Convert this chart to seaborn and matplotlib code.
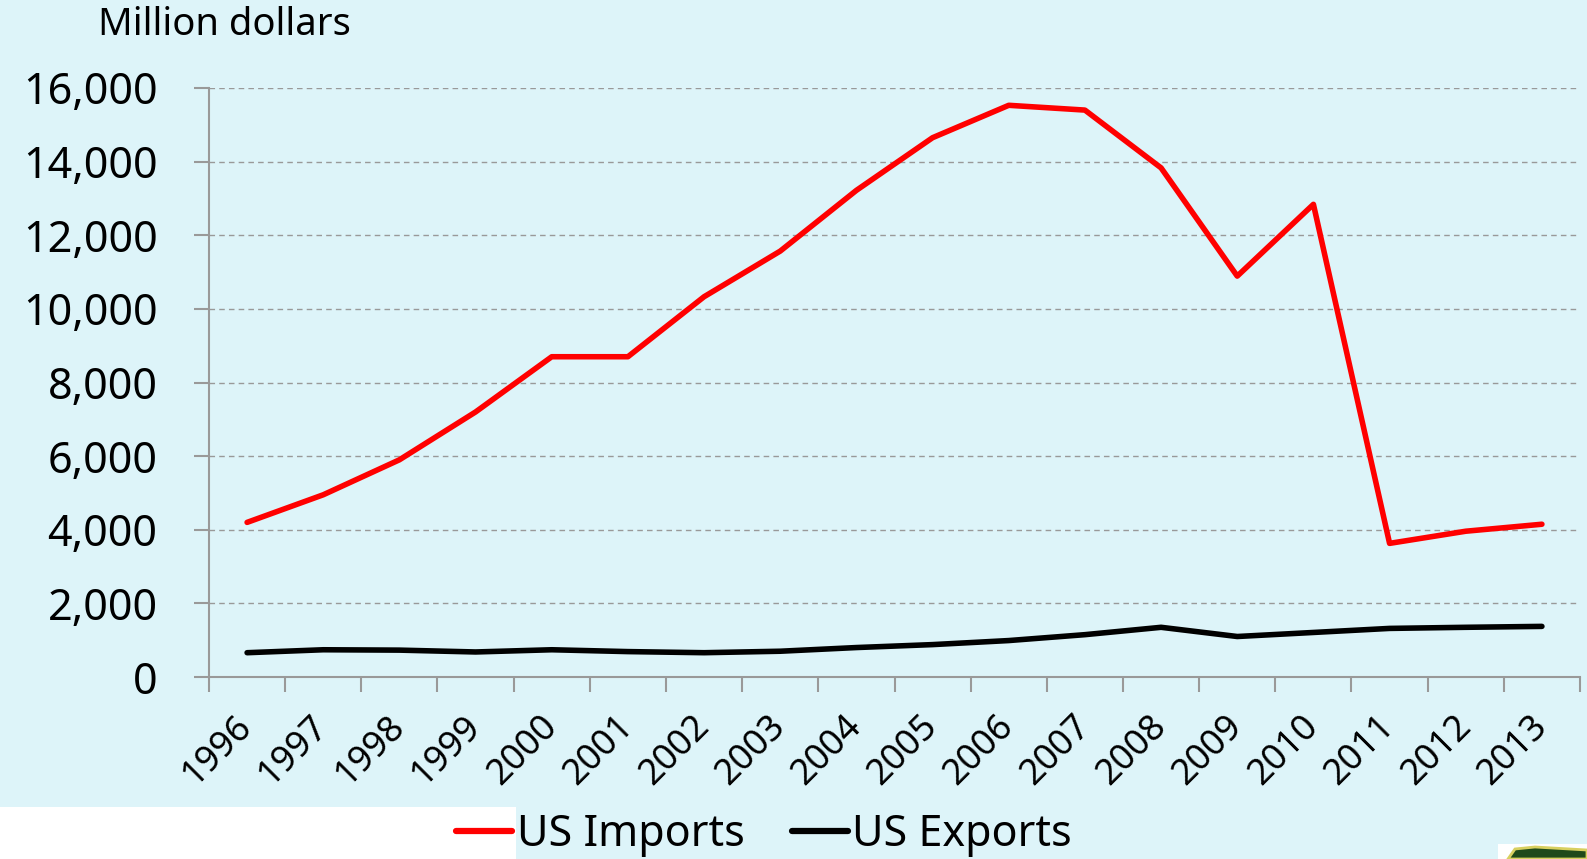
import numpy as np
import pandas as pd
import matplotlib
matplotlib.use("Agg")
import matplotlib.pyplot as plt
from matplotlib.patches import Rectangle, Polygon
from matplotlib.ticker import FixedLocator, FuncFormatter
import seaborn as sns

years = [str(y) for y in range(1996, 2014)]
imports = [4200, 4950, 5900, 7200, 8700, 8700, 10330, 11570, 13220, 14650,
           15530, 15400, 13830, 10890, 12840, 3630, 3960, 4150]
exports = [660, 740, 730, 680, 740, 690, 660, 700, 800, 880,
           990, 1150, 1350, 1100, 1210, 1320, 1350, 1375]
series_names = ["US Imports", "US Exports"]
colors = ["#FF0000", "#000000"]
y_label = "Million dollars"

BG = "#DDF4F9"
GRAY = "#999999"

sns.set_theme(style="white")
plt.rcParams["font.family"] = ["Noto Sans", "DejaVu Sans"]
plt.rcParams["text.color"] = "black"
plt.rcParams["xtick.color"] = "black"
plt.rcParams["ytick.color"] = "black"

df = pd.DataFrame({
    "idx": list(range(len(years))) * 2,
    "value": imports + exports,
    "series": [series_names[0]] * len(years) + [series_names[1]] * len(years),
})

fig = plt.figure(figsize=(15.87, 8.59), dpi=100, facecolor=BG)
fig.patches.append(Rectangle((0, 0), 516 / 1587, (859 - 807) / 859,
                             transform=fig.transFigure, facecolor="white",
                             edgecolor="none", zorder=0))
ax = fig.add_axes([209 / 1587, 1 - 677 / 859, (1580 - 209) / 1587, (677 - 88) / 859])
ax.set_facecolor(BG)

sns.lineplot(data=df, x="idx", y="value", hue="series", palette=colors,
             linewidth=4.0, ax=ax, legend=True, solid_capstyle="round")

ax.set_xlim(-0.5, len(years) - 0.5)
ax.set_ylim(0, 16000)
ax.set_yticks(np.arange(0, 16001, 2000))
ax.yaxis.set_major_formatter(FuncFormatter(lambda v, p: f"{int(v):,}"))
ax.xaxis.set_major_locator(FixedLocator(np.arange(-0.5, len(years), 1.0)))
ax.xaxis.set_major_formatter(FuncFormatter(lambda v, p: ""))
ax.xaxis.set_minor_locator(FixedLocator(np.arange(len(years))))
ax.set_xticklabels(years, minor=True)
ax.tick_params(axis="x", which="major", length=11, width=1.5, color=GRAY, direction="out", bottom=True)
ax.tick_params(axis="x", which="minor", length=0, labelsize=26, pad=32, bottom=True, labelcolor="black")
for lab in ax.get_xticklabels(minor=True):
    lab.set_rotation(45)
    lab.set_ha("right")
    lab.set_va("center")
    lab.set_rotation_mode("anchor")
ax.tick_params(axis="y", length=11, width=1.5, color=GRAY, direction="out", labelsize=31, pad=26,
               left=True, labelcolor="black")
ax.grid(axis="y", color=GRAY, linestyle=(0, (4, 3)), linewidth=1.0)
ax.set_axisbelow(True)
for s in ["top", "right"]:
    ax.spines[s].set_visible(False)
for s in ["left", "bottom"]:
    ax.spines[s].set_color(GRAY)
    ax.spines[s].set_linewidth(1.5)
ax.set_xlabel("")
ax.set_ylabel("")

fig.text(98 / 1587, 1 - 25 / 859, y_label, fontsize=27.5, ha="left", va="center", color="black")

handles, labels = ax.get_legend_handles_labels()
ax.get_legend().remove()
leg = fig.legend(handles, labels, loc="center", bbox_to_anchor=(764 / 1587, 1 - 835 / 859),
                 ncol=2, frameon=False, fontsize=31, handlelength=1.3,
                 handletextpad=0.1, columnspacing=1.1, borderaxespad=0, labelcolor="black")
for h in leg.get_lines():
    h.set_linewidth(4.5)

# small logo at bottom right corner
fig.patches.append(Rectangle((1498 / 1587, 0), 89 / 1587, 15 / 859, transform=fig.transFigure,
                             facecolor="white", edgecolor="none", zorder=1))
fig.patches.append(Polygon([(1508 / 1587, 0), (1515 / 1587, 10 / 859), (1535 / 1587, 12 / 859),
                            (1587 / 1587, 9 / 859), (1587 / 1587, 0)],
                           closed=True, transform=fig.transFigure, facecolor="#1F4A1A",
                           edgecolor="#D8D060", linewidth=2, zorder=2))

fig.savefig("out.png", dpi=100, facecolor=BG)
